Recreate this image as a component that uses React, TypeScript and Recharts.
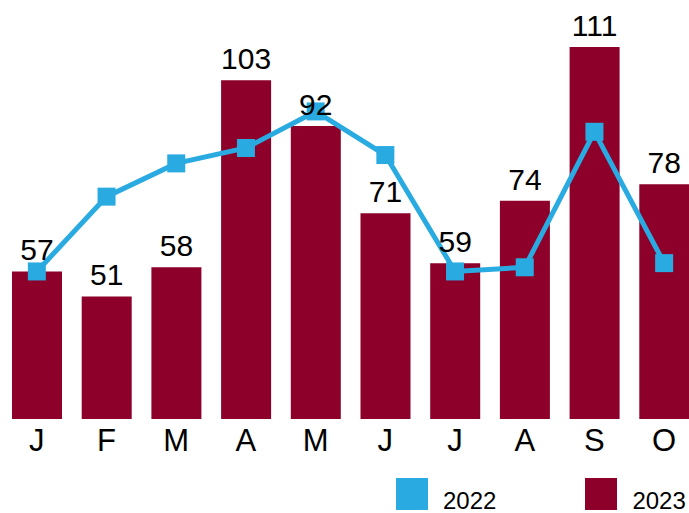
import { ComposedChart, Bar, Line, XAxis, YAxis, LabelList, Legend } from "recharts";

const months = ["J", "F", "M", "A", "M", "J", "J", "A", "S", "O"];
const values2022 = [57, 75, 83, 86.7, 95.5, 85, 57, 58, 90.6, 59];
const values2023 = [57, 51, 58, 103, 92, 71, 59, 74, 111, 78];

const BLUE = "#29ABE2";
const WINE = "#8C0029";
const FONT = "'Liberation Sans', Arial, Helvetica, sans-serif";

const data = months.map((m, i) => ({
  month: m,
  y2022: values2022[i],
  y2023: values2023[i],
}));

const SquareDot = (props: any) => {
  const { cx, cy, index } = props;
  if (cx == null || cy == null) return null;
  return <rect key={index} x={cx - 9} y={cy - 9} width={18} height={18} fill={BLUE} />;
};

const renderLegend = (props: any) => {
  const items = [...(props.payload || [])].sort((a: any, b: any) =>
    String(a.value).localeCompare(String(b.value)),
  );
  return (
    <div style={{ display: "flex", alignItems: "flex-end", fontFamily: FONT }}>
      {items.map((it: any, i: number) => (
        <div
          key={it.value}
          style={{ display: "flex", alignItems: "flex-end", marginRight: i === 0 ? 89 : 0 }}
        >
          <div style={{ width: 32, height: 32, background: it.color }} />
          <span
            style={{
              fontSize: 24,
              lineHeight: "24px",
              marginLeft: 15,
              marginBottom: -3,
              color: "#000",
              whiteSpace: "nowrap",
            }}
          >
            {it.value}
          </span>
        </div>
      ))}
    </div>
  );
};

export default function App() {
  return (
    <div
      style={{
        position: "fixed",
        left: 0,
        top: 0,
        width: 689,
        height: 513,
        overflow: "hidden",
        background: "#fff",
      }}
    >
      <ComposedChart
        width={700}
        height={513}
        data={data}
        margin={{ top: 47, right: 1, bottom: 0, left: 2 }}
      >
        <XAxis
          dataKey="month"
          height={94}
          axisLine={false}
          tickLine={false}
          tickMargin={4}
          interval={0}
          tick={{ fontSize: 31, fill: "#000", fontFamily: FONT }}
        />
        <YAxis hide domain={[21.5, 111]} allowDataOverflow />
        <Bar dataKey="y2023" name="2023" fill={WINE} barSize={50} isAnimationActive={false}>
          <LabelList
            dataKey="y2023"
            position="top"
            offset={11}
            fill="#000"
            fontSize={30}
            fontFamily={FONT}
          />
        </Bar>
        <Line
          dataKey="y2022"
          name="2022"
          stroke={BLUE}
          strokeWidth={5}
          dot={<SquareDot />}
          activeDot={false}
          isAnimationActive={false}
        />
        <Legend
          layout="horizontal"
          verticalAlign="middle"
          align="center"
          content={renderLegend}
          wrapperStyle={{ left: 396, top: 478, width: 293, height: 32 }}
        />
      </ComposedChart>
    </div>
  );
}
